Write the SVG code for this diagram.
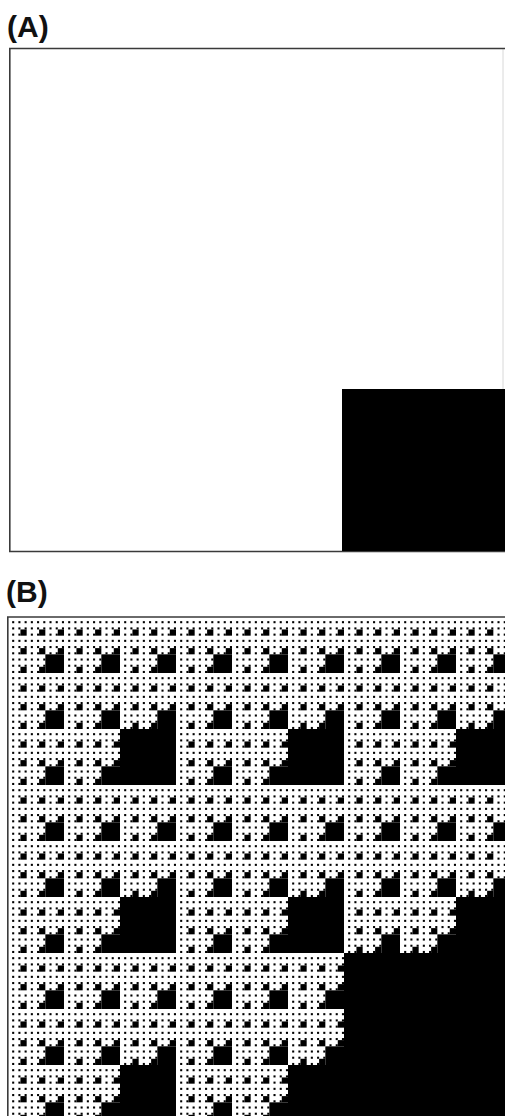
<svg xmlns="http://www.w3.org/2000/svg" width="505" height="1116" viewBox="0 0 505 1116">
<style>
.lbl{font-family:"Liberation Sans",Arial,sans-serif;font-weight:bold;font-size:30px;fill:#111}
.frame{fill:none;stroke:#3a3a3a;stroke-width:1.6}
.faint{fill:none;stroke:#d8d8d8;stroke-width:1}
.blk{fill:#000}
</style>
<defs>
<g id="f1"><rect x="2" y="2" width="1" height="1"/></g>
<g id="f2"><rect x="2" y="2" width="1" height="1"/>
<use href="#f1" transform="translate(0,0) scale(0.3333333)"/>
<use href="#f1" transform="translate(1,0) scale(0.3333333)"/>
<use href="#f1" transform="translate(2,0) scale(0.3333333)"/>
<use href="#f1" transform="translate(0,1) scale(0.3333333)"/>
<use href="#f1" transform="translate(1,1) scale(0.3333333)"/>
<use href="#f1" transform="translate(2,1) scale(0.3333333)"/>
<use href="#f1" transform="translate(0,2) scale(0.3333333)"/>
<use href="#f1" transform="translate(1,2) scale(0.3333333)"/>
</g>
<g id="f3"><rect x="2" y="2" width="1" height="1"/>
<use href="#f2" transform="translate(0,0) scale(0.3333333)"/>
<use href="#f2" transform="translate(1,0) scale(0.3333333)"/>
<use href="#f2" transform="translate(2,0) scale(0.3333333)"/>
<use href="#f2" transform="translate(0,1) scale(0.3333333)"/>
<use href="#f2" transform="translate(1,1) scale(0.3333333)"/>
<use href="#f2" transform="translate(2,1) scale(0.3333333)"/>
<use href="#f2" transform="translate(0,2) scale(0.3333333)"/>
<use href="#f2" transform="translate(1,2) scale(0.3333333)"/>
</g>
<g id="f4"><rect x="2" y="2" width="1" height="1"/>
<use href="#f3" transform="translate(0,0) scale(0.3333333)"/>
<use href="#f3" transform="translate(1,0) scale(0.3333333)"/>
<use href="#f3" transform="translate(2,0) scale(0.3333333)"/>
<use href="#f3" transform="translate(0,1) scale(0.3333333)"/>
<use href="#f3" transform="translate(1,1) scale(0.3333333)"/>
<use href="#f3" transform="translate(2,1) scale(0.3333333)"/>
<use href="#f3" transform="translate(0,2) scale(0.3333333)"/>
<use href="#f3" transform="translate(1,2) scale(0.3333333)"/>
</g>
<g id="f5"><rect x="2" y="2" width="1" height="1"/>
<use href="#f4" transform="translate(0,0) scale(0.3333333)"/>
<use href="#f4" transform="translate(1,0) scale(0.3333333)"/>
<use href="#f4" transform="translate(2,0) scale(0.3333333)"/>
<use href="#f4" transform="translate(0,1) scale(0.3333333)"/>
<use href="#f4" transform="translate(1,1) scale(0.3333333)"/>
<use href="#f4" transform="translate(2,1) scale(0.3333333)"/>
<use href="#f4" transform="translate(0,2) scale(0.3333333)"/>
<use href="#f4" transform="translate(1,2) scale(0.3333333)"/>
</g>
</defs>
<rect width="505" height="1116" fill="#fff"/>
<g id="panelA">
<text class="lbl" x="7" y="37">(A)</text>
<line class="faint" x1="503" y1="48.5" x2="503" y2="389"/>
<path class="frame" d="M505,48.5 H9.8 V551.5 H505"/>
<rect class="blk" x="342" y="389" width="170" height="162"/>
</g>
<g id="panelB">
<text class="lbl" x="6" y="602">(B)</text>
<use href="#f5" class="blk" transform="translate(8,617) scale(168)"/>
<path class="frame" d="M505,617 H7.8 V1120"/>
</g>
</svg>
